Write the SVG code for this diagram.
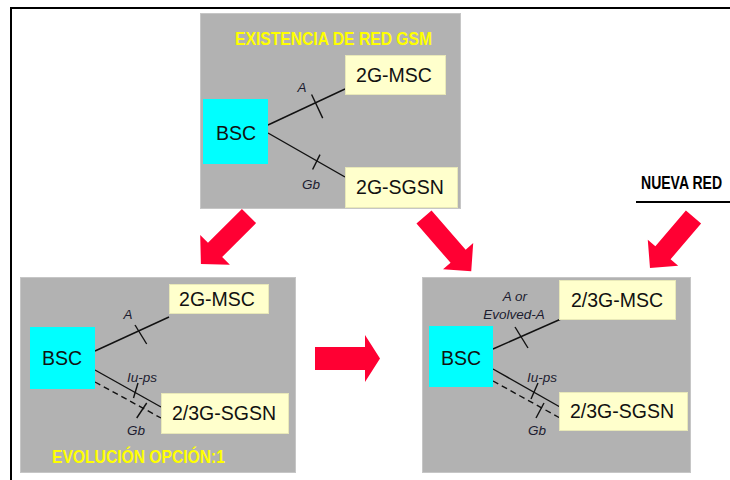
<svg xmlns="http://www.w3.org/2000/svg" width="730" height="480" viewBox="0 0 730 480">
<style>
.panel{fill:#B2B2B2;stroke:#C6C6C6;stroke-width:1}
.bsc{fill:#00FFFF}
.box{fill:#FFFFCC;stroke:#E8E8B8;stroke-width:1}
.nt{font-family:"Liberation Sans",Arial,sans-serif;font-size:19.5px;fill:#111;text-anchor:middle}
.lbl{font-family:"Liberation Sans",Arial,sans-serif;font-size:13.5px;font-style:italic;fill:#1c1c30;text-anchor:middle}
.ttl{font-family:"Liberation Sans Narrow","Liberation Sans",Arial,sans-serif;font-size:18px;font-weight:bold;fill:#FFFF00}
.ln{stroke:#111;stroke-width:1.4;fill:none}
.dash{stroke:#111;stroke-width:1.4;fill:none;stroke-dasharray:6 4}
.arrow{fill:#FF0033}
</style>
<g id="frame">
<line x1="10" y1="8" x2="730" y2="8" stroke="#000" stroke-width="2"/>
<line x1="11" y1="7" x2="11" y2="480" stroke="#000" stroke-width="2"/>
</g>
<g id="panel-gsm">
<rect class="panel" x="200.5" y="13.5" width="260" height="195"/>
<text class="ttl" x="235" y="45" textLength="197" lengthAdjust="spacingAndGlyphs">EXISTENCIA DE RED GSM</text>
</g>
<g id="panel-evol">
<rect class="panel" x="20.5" y="277.5" width="275" height="195"/>
<text class="ttl" x="52" y="463" textLength="173" lengthAdjust="spacingAndGlyphs">EVOLUCIÓN OPCIÓN:1</text>
</g>
<g id="panel-nueva">
<rect class="panel" x="422.5" y="277.5" width="268" height="195"/>
</g>
<g id="connectors">
<line class="ln" x1="268" y1="125" x2="345" y2="89"/>
<line class="ln" x1="311.6" y1="94.5" x2="322.7" y2="118.1"/>
<line class="ln" x1="268" y1="133" x2="345" y2="177"/>
<line class="ln" x1="320" y1="154.6" x2="312.6" y2="169.5"/>
<line class="ln" x1="95" y1="351" x2="169" y2="317"/>
<line class="ln" x1="135" y1="325" x2="146.7" y2="344"/>
<line class="ln" x1="95" y1="370" x2="161" y2="407"/>
<line class="ln" x1="138" y1="383" x2="133.5" y2="398"/>
<line class="dash" x1="95" y1="382" x2="161" y2="418"/>
<line class="ln" x1="146.7" y1="403" x2="136.7" y2="418"/>
<line class="ln" x1="493" y1="349" x2="561" y2="319"/>
<line class="ln" x1="515" y1="327" x2="528" y2="348"/>
<line class="ln" x1="493" y1="369" x2="560" y2="407"/>
<line class="ln" x1="538" y1="383" x2="531" y2="399"/>
<line class="dash" x1="493" y1="381" x2="560" y2="418"/>
<line class="ln" x1="544" y1="403" x2="536" y2="418"/>
<text class="lbl" x="302" y="92">A</text>
<text class="lbl" x="311" y="189">Gb</text>
<text class="lbl" x="128" y="319">A</text>
<text class="lbl" x="142" y="382">Iu-ps</text>
<text class="lbl" x="136" y="435">Gb</text>
<text class="lbl" x="515" y="301">A or</text>
<text class="lbl" x="514" y="319">Evolved-A</text>
<text class="lbl" x="542" y="382">Iu-ps</text>
<text class="lbl" x="537" y="435">Gb</text>
</g>
<g id="bsc-gsm"><rect class="bsc" x="203" y="99" width="65" height="65"/><text class="nt" x="236" y="140">BSC</text></g>
<g id="msc-gsm"><rect class="box" x="345.5" y="55.5" width="100" height="39"/><text class="nt" x="394" y="82">2G-MSC</text></g>
<g id="sgsn-gsm"><rect class="box" x="345.5" y="167.5" width="112" height="40"/><text class="nt" x="400" y="194">2G-SGSN</text></g>
<g id="bsc-evol"><rect class="bsc" x="30" y="327" width="65" height="62"/><text class="nt" x="62" y="365">BSC</text></g>
<g id="msc-evol"><rect class="box" x="169.5" y="284.5" width="99" height="29"/><text class="nt" x="217" y="306">2G-MSC</text></g>
<g id="sgsn-evol"><rect class="box" x="161.5" y="393.5" width="127" height="40"/><text class="nt" x="224" y="420">2/3G-SGSN</text></g>
<g id="bsc-nueva"><rect class="bsc" x="429" y="326" width="64" height="61"/><text class="nt" x="461" y="365">BSC</text></g>
<g id="msc-nueva"><rect class="box" x="559.5" y="280.5" width="116" height="39"/><text class="nt" x="617" y="307">2/3G-MSC</text></g>
<g id="sgsn-nueva"><rect class="box" x="559.5" y="392.5" width="128" height="38"/><text class="nt" x="622" y="418">2/3G-SGSN</text></g>
<g id="nueva-red">
<text transform="translate(641,189) scale(0.78,1)" x="0" y="0" font-family="'Liberation Sans',Arial,sans-serif" font-size="18" font-weight="bold" fill="#000">NUEVA RED</text>
<line x1="636" y1="202" x2="730" y2="202" stroke="#000" stroke-width="2.2"/>
</g>
<g id="arrows">
<polygon class="arrow" transform="translate(249,216) rotate(135)" points="0,-10 48,-10 48,-21 68,0 48,21 48,10 0,10"/>
<polygon class="arrow" transform="translate(424,217) rotate(49)" points="0,-10 52,-10 52,-20 72,0 52,20 52,10 0,10"/>
<polygon class="arrow" transform="translate(693.5,217) rotate(130.5)" points="0,-10 47,-10 47,-20 67,0 47,20 47,10 0,10"/>
<polygon class="arrow" points="315,347 365,347 365,335 380,358.5 365,382 365,370 315,370"/>
</g>
</svg>
